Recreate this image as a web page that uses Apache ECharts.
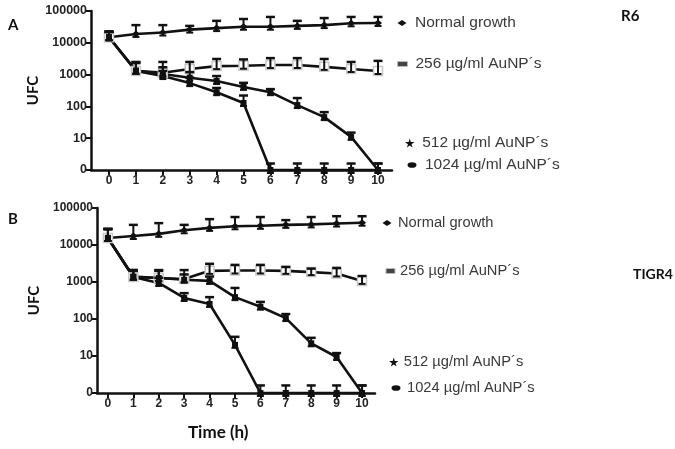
<!DOCTYPE html>
<html>
<head>
<meta charset="utf-8">
<script src="https://cdn.jsdelivr.net/npm/echarts@6/dist/echarts.min.js"></script>
<style>
  html, body { margin: 0; padding: 0; background: #fff; }
  #chart { width: 675px; height: 449px; }
</style>
</head>
<body>
<div id="chart"></div>
<script>
var hours = [0, 1, 2, 3, 4, 5, 6, 7, 8, 9, 10];
var seriesNames = ["Normal growth", "256 µg/ml AuNP´s", "512 µg/ml AuNP´s", "1024 µg/ml AuNP´s"];

// panel A (R6), "0" on the log axis is drawn at 1
var r6Normal = [15000, 19000, 21000, 26000, 29000, 32000, 32000, 34000, 36000, 41000, 42000];
var r6NormalErr = [23000, 36000, 36000, 34000, 49000, 56000, 65000, 49000, 60000, 65000, 65000];
var r6_256 = [15000, 1300, 1150, 1500, 1850, 1900, 2000, 2000, 1750, 1500, 1300];
var r6_256Err = [22000, 2500, 2500, 2500, 3100, 3000, 3300, 3300, 3100, 2500, 2700];
var r6_512 = [15000, 1350, 1050, 800, 630, 410, 280, 110, 46, 11, 1];
var r6_512Err = [22000, 2400, 1700, 1200, 900, 550, 350, 183, 66, 15, 1.6];
var r6_1024 = [15000, 1300, 900, 540, 280, 128, 1, 1, 1, 1, 1];
var r6_1024Err = [22000, 2300, 1300, 800, 380, 220, 1.6, 1.6, 1.6, 1.6, 1.6];

// panel B (TIGR4)
var t4Normal = [15500, 17500, 20000, 25000, 29000, 32000, 33000, 35000, 36000, 38000, 40000];
var t4NormalErr = [27000, 35000, 39000, 35000, 50000, 57000, 57000, 47000, 57000, 60000, 60000];
var t4_256 = [15500, 1370, 1280, 1200, 2000, 2050, 2050, 2000, 1850, 1700, 1070];
var t4_256Err = [27000, 2100, 2100, 2100, 3100, 2900, 2900, 2550, 2300, 2400, 1450];
var t4_512 = [15500, 1400, 1280, 1150, 1070, 390, 215, 106, 22, 9.4, 1];
var t4_512Err = [27000, 2100, 2000, 1600, 1400, 690, 290, 136, 31, 12, 1.6];
var t4_1024 = [15500, 1370, 940, 370, 255, 20, 1, 1, 1, 1, 1];
var t4_1024Err = [27000, 2000, 1300, 500, 390, 33, 1.6, 1.6, 1.6, 1.6, 1.6];

var panels = [
  { vals: [r6Normal, r6_256, r6_512, r6_1024], errs: [r6NormalErr, r6_256Err, r6_512Err, r6_1024Err] },
  { vals: [t4Normal, t4_256, t4_512, t4_1024], errs: [t4NormalErr, t4_256Err, t4_512Err, t4_1024Err] }
];

var ink = "#111";
var starPath = "path://M50,0 L61,35 L98,35 L68,57 L79,91 L50,70 L21,91 L32,57 L2,35 L39,35 Z";
var ellipsePath = "path://M0,5 A8,5 0 1,0 16,5 A8,5 0 1,0 0,5 Z";

var chart = echarts.init(document.getElementById("chart"));

function renderErr(params, api) {
  var p = api.coord([api.value(0), api.value(1)]);
  var t = api.coord([api.value(0), api.value(2)]);
  var cap = 4.5;
  var ls = { stroke: ink, lineWidth: 2 };
  return {
    type: "group",
    children: [
      { type: "line", shape: { x1: p[0], y1: p[1] + 3, x2: t[0], y2: t[1] }, style: ls },
      { type: "line", shape: { x1: t[0] - cap, y1: t[1], x2: t[0] + cap, y2: t[1] }, style: { stroke: ink, lineWidth: 2.5 } },
      { type: "line", shape: { x1: p[0] - cap + 1, y1: p[1] + 3, x2: p[0] + cap - 1, y2: p[1] + 3 }, style: ls }
    ]
  };
}

var symbols = [
  { symbol: "diamond", symbolSize: [8, 7], itemStyle: { color: ink } },
  { symbol: "rect", symbolSize: 9, itemStyle: { color: "#fff", borderColor: "#c8c8c8", borderWidth: 1.5 } },
  { symbol: "rect", symbolSize: 6, itemStyle: { color: ink } },
  { symbol: "rect", symbolSize: 6, itemStyle: { color: ink } }
];

var series = [];
panels.forEach(function (panel, pi) {
  panel.vals.forEach(function (vals, si) {
    series.push({
      name: seriesNames[si],
      type: "line",
      xAxisIndex: pi,
      yAxisIndex: pi,
      data: hours.map(function (h, i) { return [h, vals[i]]; }),
      symbol: symbols[si].symbol,
      symbolSize: symbols[si].symbolSize,
      itemStyle: symbols[si].itemStyle,
      showAllSymbol: true,
      lineStyle: { color: ink, width: 2.6 },
      clip: false,
      z: 2,
      silent: true
    });
  });
  panel.errs.forEach(function (errs, si) {
    series.push({
      type: "custom",
      xAxisIndex: pi,
      yAxisIndex: pi,
      renderItem: renderErr,
      data: hours.map(function (h, i) { return [h, panel.vals[si][i], errs[i]]; }),
      clip: false,
      z: 3,
      silent: true
    });
  });
});

// legend placement: [font size, left, top, iconW, iconH, text pad]
var legendSpots = [
  [15.5, 397.5, 15, 9, 6, 3.5], [15.5, 397, 56, 10, 5, 3], [15.5, 405, 135, 10, 9, 2.5], [15.5, 407.5, 157, 9, 6, 3.5],
  [14.7, 382.5, 215, 9, 6, 1.5], [14.7, 385.5, 263, 9, 5, 0], [14.7, 389, 354, 10, 9, 0], [14.7, 391.5, 380, 9, 6, 1.5]
];
var legendIcons = [
  { icon: "diamond", itemStyle: { color: ink } },
  { icon: "rect", itemStyle: { color: "#444", borderColor: "#bbb", borderWidth: 1 } },
  { icon: starPath, itemStyle: { color: ink } },
  { icon: ellipsePath, itemStyle: { color: ink } }
];
var legends = legendSpots.map(function (s, k) {
  var si = k % 4;
  return {
    data: [{ name: seriesNames[si], icon: legendIcons[si].icon, itemStyle: legendIcons[si].itemStyle }],
    left: s[1],
    top: s[2],
    itemWidth: s[3],
    itemHeight: s[4],
    padding: 0,
    selectedMode: false,
    textStyle: { fontFamily: "Liberation Sans", fontSize: s[0], color: "#3a3a3a", lineHeight: 16, padding: [0, 0, 0, s[5]] }
  };
});

var grids = [
  { left: 91, top: 11, width: 301, height: 159, xmin: -0.67, xmax: 10.52, gap: 50, yfont: 12.5 },
  { left: 97, top: 208, width: 278, height: 185, xmin: -0.43, xmax: 10.51, gap: 55, yfont: 12 }
];

var boldLabel = { fontFamily: "Liberation Sans", fontWeight: "bold", fontSize: 12, color: "#222" };

var option = {
  backgroundColor: "#fff",
  animation: false,
  title: [
    { text: "A", left: 8, top: 18 },
    { text: "B", left: 8, top: 212 },
    { text: "R6", left: 621, top: 9 },
    { text: "TIGR4", left: 633, top: 267, textStyle: { fontSize: 14 } },
    { text: "Time (h)", left: 188, top: 424, textStyle: { fontSize: 17 } }
  ].map(function (t) {
    t.padding = 0;
    t.textStyle = Object.assign({ fontFamily: "Lato", fontWeight: "bold", fontSize: 15, color: "#111" }, t.textStyle || {});
    return t;
  }),
  legend: legends,
  grid: grids.map(function (g) {
    return { left: g.left, top: g.top, width: g.width, height: g.height, containLabel: false };
  }),
  xAxis: grids.map(function (g, i) {
    return {
      gridIndex: i,
      type: "value",
      min: g.xmin,
      max: g.xmax,
      axisLine: { onZero: false, lineStyle: { color: ink, width: 2.5 } },
      axisTick: { customValues: hours, length: 5, lineStyle: { color: ink, width: 2 } },
      axisLabel: Object.assign({ customValues: hours, margin: 5 }, boldLabel),
      splitLine: { show: false }
    };
  }),
  yAxis: grids.map(function (g, i) {
    return {
      gridIndex: i,
      type: "log",
      logBase: 10,
      min: 1,
      max: 100000,
      name: "UFC",
      nameLocation: "middle",
      nameGap: g.gap,
      nameTextStyle: { fontFamily: "Lato", fontWeight: "bold", fontSize: 15, color: "#111" },
      axisLine: { show: true, onZero: false, lineStyle: { color: ink, width: 2.5 } },
      axisTick: { show: true, length: 5, lineStyle: { color: ink, width: 2 } },
      axisLabel: Object.assign({}, boldLabel, {
        margin: 4,
        fontSize: g.yfont,
        formatter: function (v) { var r = Math.round(v); return r === 1 ? "0" : String(r); }
      }),
      splitLine: { show: false },
      minorTick: { show: false }
    };
  }),
  series: series
};

chart.setOption(option);
</script>
</body>
</html>
